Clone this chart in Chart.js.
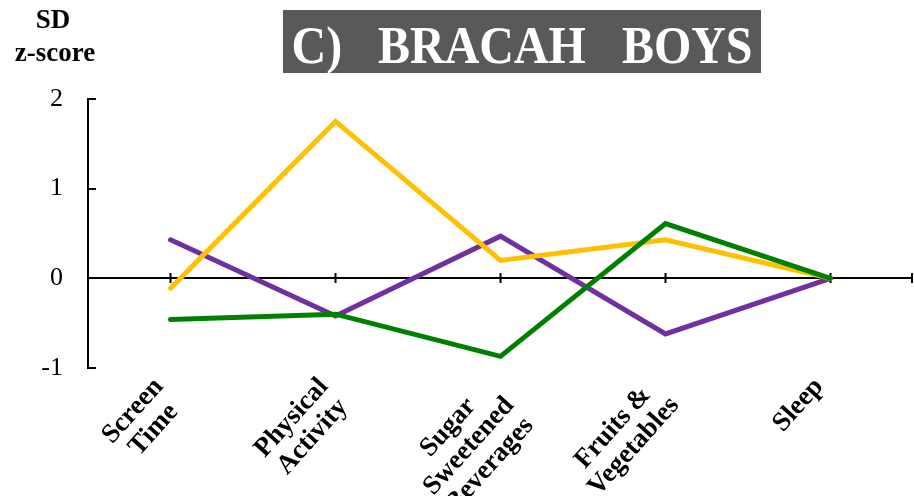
<!DOCTYPE html>
<html><head><meta charset="utf-8">
<script src="https://cdn.jsdelivr.net/npm/chart.js@4/dist/chart.umd.min.js"></script>
<style>html,body{margin:0;padding:0;background:#fff}#wrap{width:914px;height:496px;position:relative}</style>
</head><body><div id="wrap"><canvas id="c" width="914" height="496"></canvas></div>
<script>
const categories = [["Screen","Time"],["Physical","Activity"],["Sugar","Sweetened","Beverages"],["Fruits &","Vegetables"],["Sleep"]];
const purpleValues = [0.43, -0.42, 0.47, -0.62, 0];
const yellowValues = [-0.11, 1.75, 0.20, 0.43, 0];
const greenValues  = [-0.46, -0.40, -0.87, 0.61, 0];
const yMin = -1, yMax = 2, yStep = 1;
const titleText = "C)   BRACAH   BOYS";
const yAxisTitle = ["SD", "z-score"];

const SERIF = '"Liberation Serif","Times New Roman",serif';

const decorPlugin = {
  id: 'decor',
  beforeDatasetsDraw(chart) {
    const ctx = chart.ctx, x = chart.scales.x, y = chart.scales.y;
    ctx.save();
    ctx.strokeStyle = '#000';
    ctx.lineWidth = 2;
    ctx.beginPath();
    ctx.moveTo(x.left, y.top); ctx.lineTo(x.left, y.bottom); ctx.stroke();
    for (let v = yMin; v <= yMax; v += yStep) {
      const py = Math.round(y.getPixelForValue(v));
      ctx.beginPath(); ctx.moveTo(x.left - 1, py); ctx.lineTo(x.left + 8, py); ctx.stroke();
    }
    const zy = Math.round(y.getPixelForValue(0));
    ctx.beginPath(); ctx.moveTo(x.left, zy); ctx.lineTo(x.right, zy); ctx.stroke();
    const pts = categories.map((c, i) => x.getPixelForValue(i));
    pts.push(x.right - 1);
    pts.forEach(px => {
      ctx.beginPath(); ctx.moveTo(px, zy - 5); ctx.lineTo(px, zy + 5); ctx.stroke();
    });
    ctx.restore();
  },
  afterDraw(chart) {
    const ctx = chart.ctx, x = chart.scales.x, y = chart.scales.y;
    ctx.save();
    // title box
    ctx.fillStyle = '#595959';
    ctx.fillRect(283, 10, 478, 63);
    ctx.fillStyle = '#fff';
    ctx.font = 'bold 53px ' + SERIF;
    ctx.textAlign = 'center';
    ctx.textBaseline = 'alphabetic';
    const tw = ctx.measureText(titleText).width;
    ctx.save();
    ctx.translate(522, 63);
    ctx.scale(461 / tw, 1);
    ctx.fillText(titleText, 0, 0);
    ctx.restore();
    // y axis title
    ctx.fillStyle = '#000';
    ctx.font = 'bold 27px ' + SERIF;
    ctx.fillText(yAxisTitle[0], 53, 28);
    ctx.fillText(yAxisTitle[1], 55, 61);
    // category labels rotated
    const th = 48 * Math.PI / 180;
    const fs = 27, lh = 28;
    ctx.font = 'bold ' + fs + 'px ' + SERIF;
    ctx.textBaseline = 'middle';
    categories.forEach((lines, i) => {
      const px = x.getPixelForValue(i);
      const w = Math.max(...lines.map(l => ctx.measureText(l).width));
      const h = lines.length * lh;
      const ax = px - 22, ay = y.bottom + 5;
      const cx = ax - (w / 2) * Math.cos(th) + (h / 2) * Math.sin(th);
      const cy = ay + (w / 2) * Math.sin(th) + (h / 2) * Math.cos(th);
      ctx.save();
      ctx.translate(cx, cy);
      ctx.rotate(-th);
      lines.forEach((l, j) => {
        ctx.fillText(l, 0, (j - (lines.length - 1) / 2) * lh);
      });
      ctx.restore();
    });
    ctx.restore();
  }
};

new Chart(document.getElementById('c'), {
  type: 'line',
  data: {
    labels: categories,
    datasets: [
      { label: 'green', data: greenValues, borderColor: '#008000', borderWidth: 5, pointRadius: 0, fill: false, tension: 0, borderCapStyle: 'round' },
      { label: 'yellow', data: yellowValues, borderColor: '#FFC000', borderWidth: 5, pointRadius: 0, fill: false, tension: 0, borderCapStyle: 'round' },
      { label: 'purple', data: purpleValues, borderColor: '#7030A0', borderWidth: 5, pointRadius: 0, fill: false, tension: 0, borderCapStyle: 'round' }
    ]
  },
  options: {
    responsive: false,
    animation: false,
    devicePixelRatio: 1,
    layout: { padding: { top: 99, right: 1, left: 0, bottom: 0 } },
    plugins: { legend: { display: false }, title: { display: false }, tooltip: { enabled: false } },
    scales: {
      x: {
        type: 'category',
        offset: true,
        grid: { display: false },
        border: { display: false },
        ticks: { display: false },
        afterFit(s) { s.height = 128; }
      },
      y: {
        min: yMin, max: yMax,
        grid: { display: false },
        border: { display: false },
        ticks: { stepSize: yStep, color: '#000', padding: 17, font: { family: SERIF, size: 26 } },
        afterFit(s) { s.width = 88; }
      }
    }
  },
  plugins: [decorPlugin]
});
</script>
</body></html>
